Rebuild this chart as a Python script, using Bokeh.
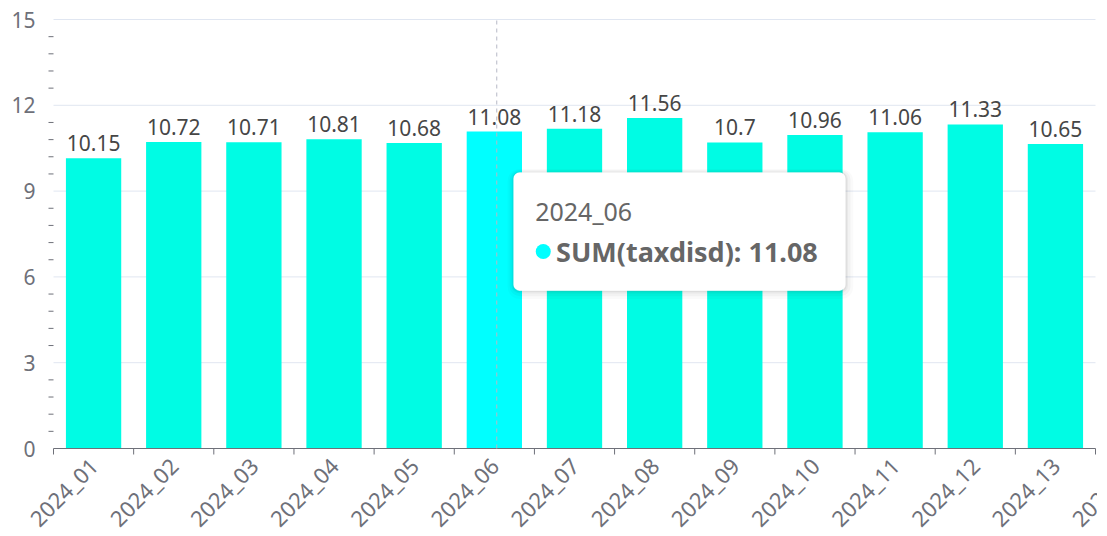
from math import pi
from bokeh.plotting import figure
from bokeh.models import Range1d, ColumnDataSource, BoxAnnotation, Label
from bokeh.core.properties import value
from bokeh.embed import file_html
from bokeh.resources import INLINE

categories = ["2024_01", "2024_02", "2024_03", "2024_04", "2024_05", "2024_06", "2024_07",
              "2024_08", "2024_09", "2024_10", "2024_11", "2024_12", "2024_13"]
next_category = "2024_14"
values = [10.15, 10.72, 10.71, 10.81, 10.68, 11.08, 11.18, 11.56, 10.7, 10.96, 11.06, 11.33, 10.65]
y_ticks = [0, 3, 6, 9, 12, 15]
y_tick_labels = ["0", "3", "6", "9", "12", "15"]
series_name = "SUM(taxdisd)"
hover_index = 5

FONT = "Noto Sans"
AXIS_COLOR = "#6E7079"
GRID_COLOR = "#E0E6F1"
BAR = "#00FCE4"
BAR_HI = "#00FFFF"

# layout (pixels): plotting area inside the canvas
W, H = 1097, 536
AREA_L, AREA_R, AREA_T, AREA_B = 53, 1095, 19, 448

n = len(categories)
Y_MAX = y_ticks[-1]
px_x = (AREA_R - AREA_L) / n
px_y = (AREA_B - AREA_T) / Y_MAX
x_rng = Range1d(-AREA_L / px_x, n + (W - AREA_R) / px_x)
y_rng = Range1d(-(H - AREA_B) / px_y, Y_MAX + AREA_T / px_y)

centers = [i + 0.5 for i in range(n)]
colors = [BAR_HI if i == hover_index else BAR for i in range(n)]
labels = [f"{v:g}" for v in values]
src = ColumnDataSource(dict(x=centers, top=values, color=colors, label=labels))

p = figure(width=W, height=H, output_backend="svg", toolbar_location=None,
           x_range=x_rng, y_range=y_rng, min_border=0)
p.min_border_left = p.min_border_right = p.min_border_top = p.min_border_bottom = 0
p.outline_line_color = None
p.background_fill_color = "white"
p.xaxis.visible = False
p.yaxis.visible = False
p.grid.visible = False

# horizontal grid lines
grid_y = y_ticks[1:]
p.segment(x0=[0] * len(grid_y), y0=grid_y, x1=[n] * len(grid_y), y1=grid_y,
          line_color=GRID_COLOR, line_width=1)

# bars + value labels
p.vbar(x="x", top="top", width=0.69, bottom=0, color="color", source=src, line_color=None)
p.text(x="x", y="top", text="label", source=src, text_align="center", text_baseline="bottom",
       y_offset=-7, text_font=value(FONT), text_font_size="21px", text_color="#464646")

# x axis: line, boundary ticks, rotated category labels
p.segment(x0=[0], y0=[0], x1=[n], y1=[0], line_color=AXIS_COLOR, line_width=1)
tick_len = 6 / px_y
bounds = list(range(n + 1))
p.segment(x0=bounds, y0=[0] * len(bounds), x1=bounds, y1=[-tick_len] * len(bounds),
          line_color=AXIS_COLOR, line_width=1)
p.text(x=centers + [n + 0.5], y=[0] * (n + 1), text=categories + [next_category],
       angle=pi / 4, text_align="right", text_baseline="middle", y_offset=13,
       text_font=value(FONT), text_font_size="22px", text_color=AXIS_COLOR)

# y axis: minor ticks and labels
step = y_ticks[1] / 5
minor = [round(step * k, 3) for k in range(1, int(round(Y_MAX / step)))]
minor = [m for m in minor if m not in y_ticks]
mlen = 5 / px_x
p.segment(x0=[0] * len(minor), y0=minor, x1=[-mlen] * len(minor), y1=minor,
          line_color=AXIS_COLOR, line_width=1)
p.text(x=[0] * len(y_ticks), y=y_ticks, text=y_tick_labels, x_offset=-18,
       text_align="right", text_baseline="middle",
       text_font=value(FONT), text_font_size="21px", text_color=AXIS_COLOR)

# crosshair
cx = hover_index + 0.53
p.segment(x0=[cx], y0=[0], x1=[cx], y1=[Y_MAX], line_color="#B6B9C6", line_dash="4 4", line_width=1)

# tooltip
tl, tr = hover_index + 0.74, hover_index + 4.88
tt, tb = 9.65, 5.52
for k, a in [(6, 0.02), (4, 0.03), (2, 0.04), (1, 0.05)]:
    dx, dy = k / px_x, k / px_y
    p.add_layout(BoxAnnotation(left=tl - dx, right=tr + dx * 1.3, top=tt + dy * 0.6, bottom=tb - dy * 1.4,
                               fill_color="black", fill_alpha=a, line_color=None,
                               border_radius=6 + k, level="annotation"))
p.add_layout(BoxAnnotation(left=tl, right=tr, top=tt, bottom=tb, fill_color="white", fill_alpha=1,
                           line_color="white", line_width=1, border_radius=6, level="annotation"))
p.add_layout(Label(x=tl + 0.27, y=tt - 1.36, text=categories[hover_index], text_baseline="middle",
                   text_font=FONT, text_font_size="25px", text_color="#666666", level="overlay"))
dot = p.scatter(x=[tl + 0.37], y=[tb + 1.37], size=15, color=BAR_HI, line_color=None)
dot.level = "overlay"
p.add_layout(Label(x=tl + 0.53, y=tb + 1.37, text=f"{series_name}: {values[hover_index]:g}",
                   text_baseline="middle", text_font=FONT, text_font_size="27px",
                   text_font_style="bold", text_color="#666666", level="overlay"))

open("out.html", "w").write(file_html(p, INLINE))
